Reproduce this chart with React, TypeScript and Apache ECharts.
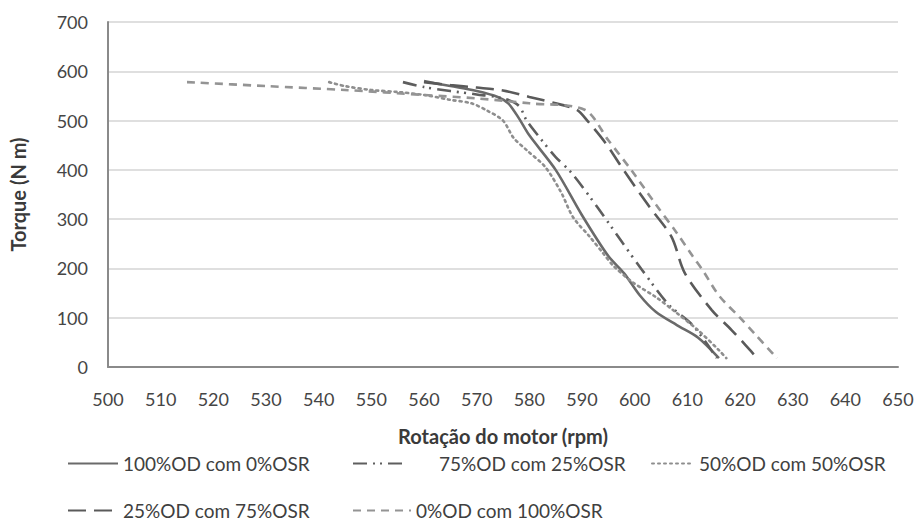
import React, { useEffect, useRef } from "react";
import * as echarts from "echarts";

const seriesNames = [
  "100%OD com 0%OSR",
  "75%OD com 25%OSR",
  "50%OD com 50%OSR",
  "25%OD com 75%OSR",
  "0%OD com 100%OSR",
];

const rpm100OD = [560, 565, 570, 574, 576, 578, 580, 585, 590, 595, 598, 601, 604, 608, 612, 616];
const torque100OD = [580, 570, 560, 548, 535, 505, 470, 400, 308, 225, 190, 145, 112, 85, 60, 18];

const rpm75OD = [556, 560, 565, 570, 575, 578, 579.5, 582, 585, 588, 593, 597.7, 601.4, 606.5, 611, 615.6];
const torque75OD = [578, 568, 560, 553, 545, 530, 500, 465, 426, 394, 323, 252, 197, 126, 85, 18];

const rpm50OD = [542, 545, 550, 555, 560, 565, 569, 572, 575, 577, 579.5, 583, 586, 588.3, 591.5, 594, 596, 599.6, 604, 607.7, 612, 616, 617.4];
const torque50OD = [578, 570, 562, 558, 552, 542, 535, 520, 500, 465, 440, 406, 355, 304, 264, 231, 205, 172, 142, 112, 75, 34, 18];

const rpm25OD = [560, 565, 570, 575, 580, 585, 589, 591, 594.5, 598, 602.8, 607, 609.5, 614.6, 618.4, 621, 623.5];
const torque25OD = [578, 572, 567, 561, 548, 535, 522, 500, 454, 398, 325, 264, 191, 116, 75, 45, 15];

const rpm0OD = [515, 530, 545, 560, 570, 580, 590.5, 595, 599.6, 604, 608, 611, 613, 616, 620, 623, 627];
const torque0OD = [578, 570, 562, 552, 545, 535, 522, 460, 396, 330, 272, 225, 195, 145, 100, 65, 18];

const xTicks = { min: 500, max: 650, interval: 10 };
const yTicks = { min: 0, max: 700, interval: 100 };

const pair = (xs: number[], ys: number[]) => xs.map((x, i) => [x, ys[i]]);

const FONT = "Lato, 'Open Sans', sans-serif";

export default function App() {
  const ref = useRef<HTMLDivElement>(null);
  useEffect(() => {
    if (!ref.current) return;
    const chart = echarts.init(ref.current, null, { renderer: "svg" });
    const styles = [
      { color: "#6a6a6a", type: "solid" as any, width: 2.6 },
      { color: "#5e5e5e", type: [14, 6, 2, 5, 2, 6], width: 2.6 },
      { color: "#8e8e8e", type: [2, 4], width: 2.6, cap: "round" },
      { color: "#5a5a5a", type: [18, 8], width: 2.6 },
      { color: "#949494", type: [8, 6], width: 2.6 },
    ];
    const datas = [
      pair(rpm100OD, torque100OD),
      pair(rpm75OD, torque75OD),
      pair(rpm50OD, torque50OD),
      pair(rpm25OD, torque25OD),
      pair(rpm0OD, torque0OD),
    ];
    const legendPos = [
      { left: 67, top: 454, w: 50, pad: 0 },
      { left: 352, top: 454, w: 53, pad: 28 },
      { left: 651, top: 454, w: 42, pad: 0 },
      { left: 67, top: 501, w: 50, pad: 0 },
      { left: 352, top: 501, w: 58, pad: 0 },
    ];
    chart.setOption({
      animation: false,
      backgroundColor: "#ffffff",
      grid: { left: 101, right: 22, top: 22, bottom: 156, containLabel: false },
      xAxis: {
        type: "value",
        min: xTicks.min,
        max: xTicks.max,
        interval: xTicks.interval,
        name: "Rotação do motor (rpm)",
        nameLocation: "middle",
        nameGap: 59,
        nameTextStyle: { fontFamily: FONT, fontSize: 20, fontWeight: "bold", color: "#3a3a3a" },
        axisLine: { show: true, lineStyle: { color: "#8a8a8a", width: 2 } },
        axisTick: { show: false },
        splitLine: { show: false },
        axisLabel: { fontFamily: FONT, fontSize: 18, color: "#454545", margin: 23 },
      },
      yAxis: {
        type: "value",
        min: yTicks.min,
        max: yTicks.max,
        interval: yTicks.interval,
        name: "Torque (N m)",
        nameLocation: "middle",
        nameGap: 80,
        nameTextStyle: { fontFamily: FONT, fontSize: 20, fontWeight: "bold", color: "#3a3a3a" },
        axisLine: { show: true, lineStyle: { color: "#8a8a8a", width: 2 } },
        axisTick: { show: false },
        splitLine: { show: true, lineStyle: { color: "#d4d4d4", width: 1.5 } },
        axisLabel: { fontFamily: FONT, fontSize: 18, color: "#454545", margin: 20 },
      },
      legend: seriesNames.map((n, i) => ({
        data: [n],
        left: legendPos[i].left,
        top: legendPos[i].top,
        itemWidth: legendPos[i].w,
        itemHeight: 16,
        padding: 0,
        itemStyle: { opacity: 0 },
        textStyle: {
          fontFamily: FONT,
          fontSize: 19,
          color: "#404040",
          padding: [0, 0, 0, legendPos[i].pad],
        },
      })),
      series: seriesNames.map((n, i) => ({
        name: n,
        type: "line",
        data: datas[i],
        smooth: 0.3,
        symbol: "none",
        showSymbol: false,
        lineStyle: styles[i],
        itemStyle: { color: styles[i].color },
      })),
    });
    return () => chart.dispose();
  }, []);
  return (
    <div
      ref={ref}
      style={{ position: "absolute", left: 0, top: 0, width: 920, height: 523 }}
    />
  );
}
